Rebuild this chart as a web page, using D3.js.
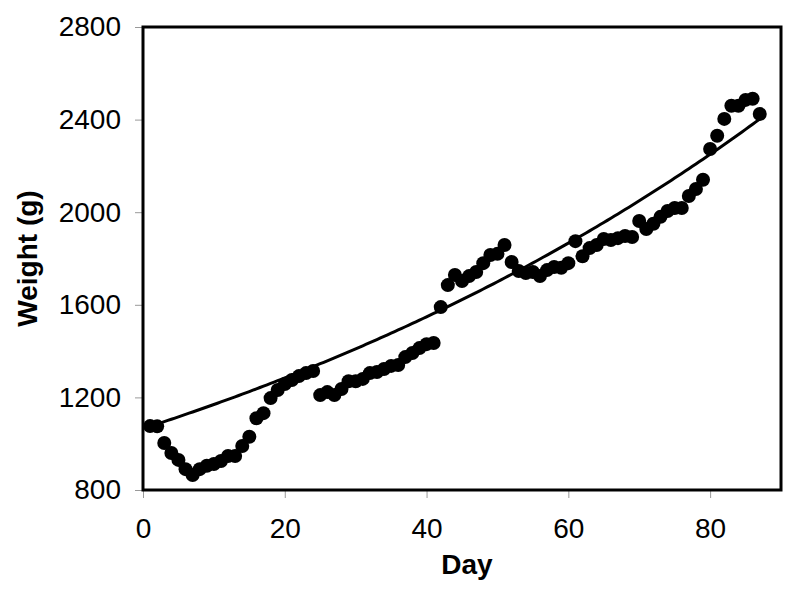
<!DOCTYPE html>
<html>
  <head>
    <meta charset="utf-8">
    <title>Weight by day</title>
    <script src="https://cdn.jsdelivr.net/npm/d3@7"></script>
    <style>
      body { margin:0; background:#fff; }
      text { font-family:"Liberation Sans", Arial, sans-serif; fill:#000; }
      .tick text { font-size:28px; }
      .tick line { stroke:#999; }
      .domain { display:none; }
      .title { font-size:28px; font-weight:bold; }
    </style>
  </head>
  <body>
    <svg></svg>
    <script>
    // day number and body weight (g)
    var days = [1,2,3,4,5,6,7,8,9,10,11,12,13,14,15,16,17,18,19,20,
                21,22,23,24,25,26,27,28,29,30,31,32,33,34,35,36,37,38,39,40,
                41,42,43,44,45,46,47,48,49,50,51,52,53,54,55,56,57,58,59,60,
                61,62,63,64,65,66,67,68,69,70,71,72,73,74,75,76,77,78,79,80,
                81,82,83,84,85,86,87];
    var weights = [1076,1075,1003,960,930,890,865,890,905,912,925,947,947,990,1030,1110,1132,1197,1232,1258,
                   1275,1292,1305,1314,1210,1223,1210,1236,1270,1270,1280,1305,1310,1323,1336,1340,1374,1392,1413,1430,
                   1435,1590,1685,1729,1703,1724,1742,1780,1815,1820,1858,1785,1746,1737,1742,1724,1750,1763,1760,1780,
                   1875,1810,1845,1858,1884,1880,1888,1897,1893,1962,1927,1950,1980,2005,2018,2018,2070,2100,2140,2273,
                   2330,2403,2460,2460,2485,2490,2424];
    var xTicks = [0,20,40,60,80];
    var yTicks = [800,1200,1600,2000,2400,2800];

    // exponential trend line: weight = a * exp(b * day)
    var trendA = 1065, trendB = 0.00935;

    var width = 800, height = 594;
    var pLeft = 143, pRight = 781, pTop = 27, pBottom = 490;

    var svg = d3.select("svg").attr("width", width).attr("height", height);

    var x = d3.scaleLinear().domain([0, 90]).range([pLeft, pRight]);
    var y = d3.scaleLinear().domain([800, 2800]).range([pBottom, pTop]);

    svg.append("g")
      .attr("transform", "translate(0," + pBottom + ")")
      .call(d3.axisBottom(x).tickValues(xTicks).tickSize(8).tickPadding(20));

    svg.append("g")
      .attr("transform", "translate(" + pLeft + ",0)")
      .call(d3.axisLeft(y).tickValues(yTicks).tickFormat(d3.format("d")).tickSize(8).tickPadding(14));

    var trend = d3.range(days[0], days[days.length - 1] + 0.01, 0.5);

    svg.append("path")
      .datum(trend)
      .attr("fill", "none")
      .attr("stroke", "#000")
      .attr("stroke-width", 3)
      .attr("d", d3.line()
        .x(function(d){ return x(d); })
        .y(function(d){ return y(trendA * Math.exp(trendB * d)); }));

    svg.append("g").selectAll("circle")
      .data(days)
      .enter().append("circle")
      .attr("cx", function(d){ return x(d); })
      .attr("cy", function(d, i){ return y(weights[i]); })
      .attr("r", 7)
      .attr("fill", "#000");

    // plot frame
    svg.append("rect")
      .attr("x", pLeft).attr("y", pTop)
      .attr("width", pRight - pLeft).attr("height", pBottom - pTop)
      .attr("fill", "none")
      .attr("stroke", "#000")
      .attr("stroke-width", 3);

    svg.append("text")
      .attr("class", "title")
      .attr("x", (pLeft + pRight) / 2 + 5)
      .attr("y", 574)
      .attr("text-anchor", "middle")
      .text("Day");

    svg.append("text")
      .attr("class", "title")
      .attr("transform", "translate(37," + ((pTop + pBottom) / 2) + ") rotate(-90)")
      .attr("text-anchor", "middle")
      .text("Weight (g)");
    </script>
  </body>
</html>
